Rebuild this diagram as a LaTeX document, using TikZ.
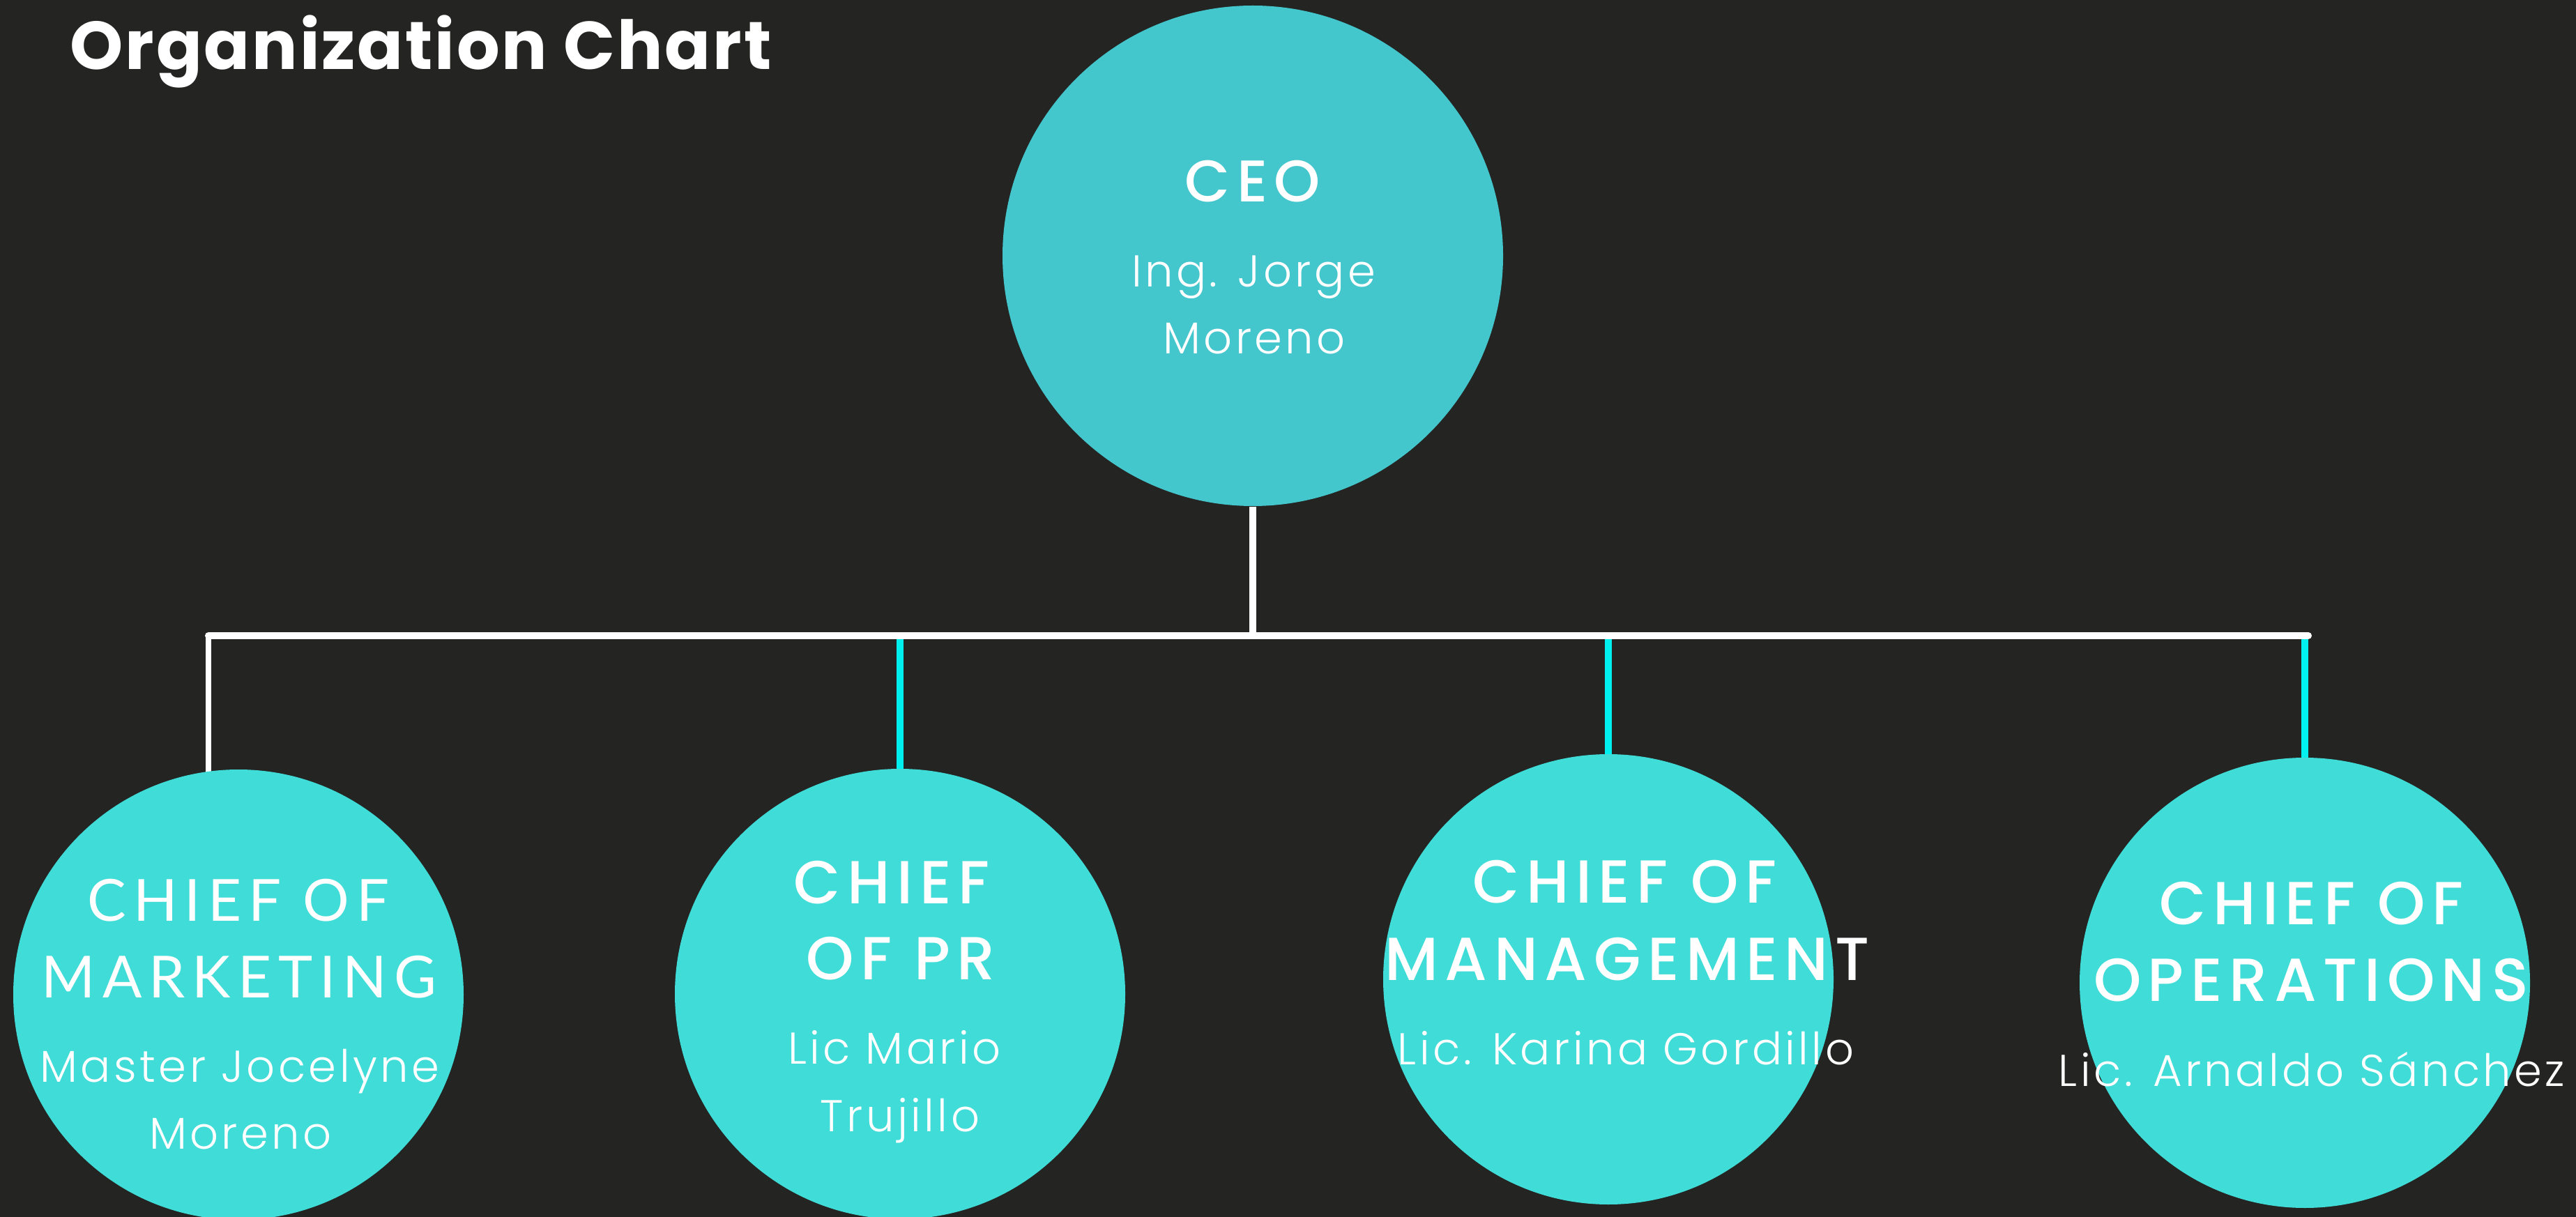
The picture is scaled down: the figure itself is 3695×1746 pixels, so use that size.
\documentclass[tikz,border=0pt]{standalone}
\usepackage{fontspec}
\setmainfont{Poppins}
\newfontfamily\titlefont{Poppins Bold}[LetterSpace=3]
\newfontfamily\rolefont{Poppins Medium}[LetterSpace=11]
\newfontfamily\namefont{Poppins Light}[LetterSpace=7]
\newfontfamily\mktrolefont{Lato}[LetterSpace=12]
\usetikzlibrary{positioning}

\definecolor{bgdark}{RGB}{36,36,34}
\definecolor{ceocyan}{RGB}{67,198,204}
\definecolor{chiefcyan}{RGB}{64,220,216}
\definecolor{dropcyan}{RGB}{0,240,240}

\pgfdeclarelayer{back}
\pgfsetlayers{back,main}

\tikzset{
  head/.style={circle,fill=ceocyan,minimum size=71.8mm,inner sep=0pt},
  chief/.style={circle,fill=chiefcyan,minimum size=64.6mm,inner sep=0pt},
  role/.style={text=white,anchor=base,inner sep=0pt,
    font=\rolefont\fontsize{24.8}{30}\selectfont},
  who/.style={text=white,anchor=base,inner sep=0pt,
    font=\namefont\fontsize{18.2}{22}\selectfont},
  wire/.style={white,line width=1mm},
  drop/.style={dropcyan,line width=1mm}
}

\begin{document}
\begin{tikzpicture}[x=0.1mm,y=-0.1mm]

\clip (0,0) rectangle (3695,1746);
\begin{pgfonlayer}{back}
\fill[bgdark] (0,0) rectangle (3695,1746);
\end{pgfonlayer}

\node[anchor=base west,inner sep=0pt,text=white,
  font=\titlefont\fontsize{27.6}{33}\selectfont] (title) at (100,100) {Organization Chart};

% top of the chart
\node[head] (ceo) at (1797,367) {};
\node[role,font=\rolefont\fontsize{24}{30}\selectfont] (ceo-role) at (1797,290) {CEO};
\node[who] (ceo-name1) at (1798,412) {Ing. Jorge};
\node[who] (ceo-name2) at (1799,508) {Moreno};

% the four chiefs
\node[chief] (mkt) at (342,1427) {};
\node[chief] (pr) at (1291,1426) {};
\node[chief] (mgmt) at (2307,1405) {};
\node[chief] (ops) at (3306,1410) {};

\node[role,font=\mktrolefont\fontsize{23.7}{30}\selectfont] (mkt-role1) at (342,1321) {CHIEF OF};
\node[role,font=\mktrolefont\fontsize{23.7}{30}\selectfont] (mkt-role2) at (343,1431) {MARKETING};
\node[who] (mkt-name1) at (344,1552) {Master Jocelyne};
\node[who] (mkt-name2) at (345,1648) {Moreno};

\node[role] (pr-role1) at (1279,1296) {CHIEF};
\node[role] (pr-role2) at (1292,1405) {OF PR};
\node[who] (pr-name1) at (1283,1526) {Lic Mario};
\node[who] (pr-name2) at (1291,1623) {Trujillo};

\node[role] (mgmt-role1) at (2330,1295) {CHIEF OF};
\node[role] (mgmt-role2) at (2334,1406) {MANAGEMENT};
\node[who] (mgmt-name) at (2332,1527) {Lic. Karina Gordillo};

\node[role] (ops-role1) at (3315,1326) {CHIEF OF};
\node[role] (ops-role2) at (3315,1436) {OPERATIONS};
\node[who] (ops-name) at (3316,1558) {Lic. Arnaldo Sánchez};

% connectors, under the circles
\coordinate (barL) at (299,912);
\coordinate (barR) at (3311,912);
\begin{pgfonlayer}{back}
\draw[wire] (ceo.south) -- (ceo.south |- barL);
\draw[wire,line width=0.8mm] (barL) -- ([yshift=-3mm]mkt.north -| barL);
\foreach \n in {pr,mgmt,ops}
  \draw[drop] (\n.north |- barL) -- ([yshift=-3mm]\n.north);
\draw[wire,line cap=round] (barL) -- (barR);
\end{pgfonlayer}

\end{tikzpicture}
\end{document}
